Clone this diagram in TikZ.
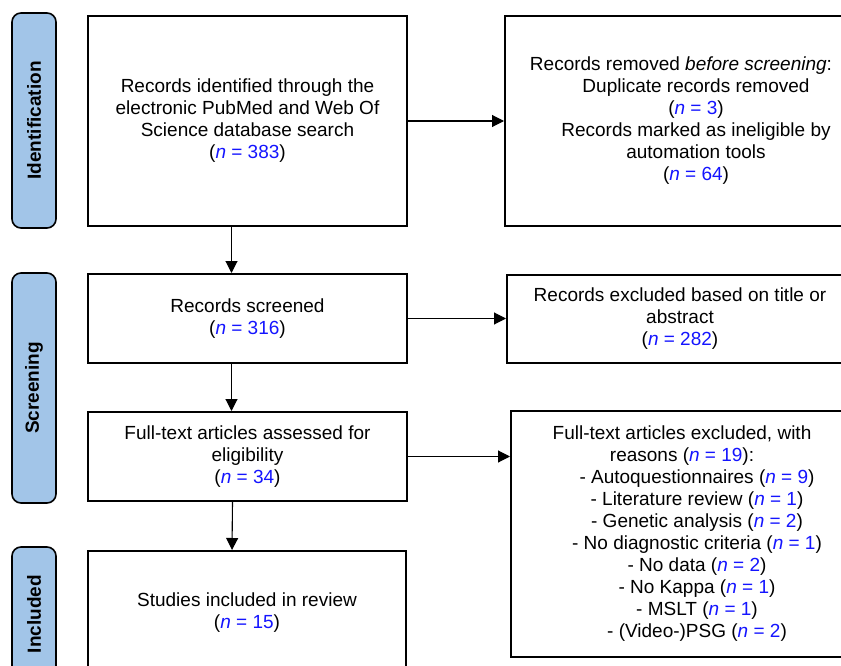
\documentclass[tikz,border=0pt]{standalone}
\usepackage{fontspec}
\setmainfont{Liberation Sans}
\usepackage{xcolor}
\usetikzlibrary{arrows.meta}
\definecolor{phaseblue}{RGB}{162,197,232}
\definecolor{nblue}{RGB}{20,20,255}
\newcommand{\nval}[1]{(\textcolor{nblue}{\textit{n} = #1})}
\newcommand{\ind}{\hspace*{30pt}}
\tikzset{
	phase/.style={draw, line width=1.6pt, rounded corners=9pt, fill=phaseblue,
			minimum height=44pt, inner sep=0pt, rotate=90,
			font=\fontsize{19}{22}\selectfont\bfseries},
	record/.style={draw, line width=2pt, align=center, inner sep=0pt,
			font=\fontsize{19}{22}\selectfont},
	flow/.style={-{Triangle[length=12pt,width=12pt]}, line width=1.1pt}
}

\begin{document}
\begin{tikzpicture}[x=1pt,y=-1pt]
			\useasboundingbox (0,0) rectangle (841,666);

			% Phases
			\node[phase, minimum width=215pt] (idphase) at (34,120.5) {Identification};
			\node[phase, minimum width=230pt] (scphase) at (34,388) {Screening};
			\node[phase, minimum width=134pt] (inphase) at (34,614) {Included};

			% Left column
			\node[record, minimum width=319pt, minimum height=210pt] (ident) at (247.5,121)
				{Records identified through the\\electronic PubMed and Web Of\\Science database search\\\nval{383}};
			\node[record, minimum width=319pt, minimum height=89pt] (screened) at (247.5,318.5)
				{Records screened\\\nval{316}};
			\node[record, minimum width=319pt, minimum height=89pt] (fulltext) at (247.5,456.5)
				{Full-text articles assessed for\\eligibility\\\nval{34}};
			\node[record, minimum width=318pt, minimum height=124pt] (included) at (247,613)
				{Studies included in review\\\nval{15}};

			% Right column
			\node[record, minimum width=352pt, minimum height=210pt] (removed) at (681,121)
				{Records removed \textit{before screening}:\\
				\ind Duplicate records removed\\\ind\nval{3}\\
				\ind Records marked as ineligible by\\\ind automation tools\\\ind\nval{64}};
			\node[record, minimum width=346pt, minimum height=88pt] (excluded) at (680,319)
				{Records excluded based on title or\\abstract\\\nval{282}};
			\node[record, minimum width=342pt, minimum height=246pt] (reasons) at (682,534)
				{Full-text articles excluded, with\\reasons \nval{19}:\\
				\ind- Autoquestionnaires \nval{9}\\\ind- Literature review \nval{1}\\
				\ind- Genetic analysis \nval{2}\\\ind- No diagnostic criteria \nval{1}\\
				\ind- No data \nval{2}\\\ind- No Kappa \nval{1}\\
				\ind- MSLT \nval{1}\\\ind- (Video-)PSG \nval{2}};

			% Arrows
			\draw[flow] (ident.east) -- (ident.east -| removed.west);
			\draw[flow] (screened.east) -- (screened.east -| excluded.west);
			\draw[flow] (fulltext.east) -- (fulltext.east -| reasons.west);
			\draw[flow] ([xshift=-16pt]ident.south) -- ([xshift=-16pt]screened.north);
			\draw[flow] ([xshift=-16pt]screened.south) -- ([xshift=-16pt]fulltext.north);
			\draw[flow] ([xshift=-15pt]fulltext.south) -- ([xshift=-15pt]included.north);
		\end{tikzpicture}
\end{document}
